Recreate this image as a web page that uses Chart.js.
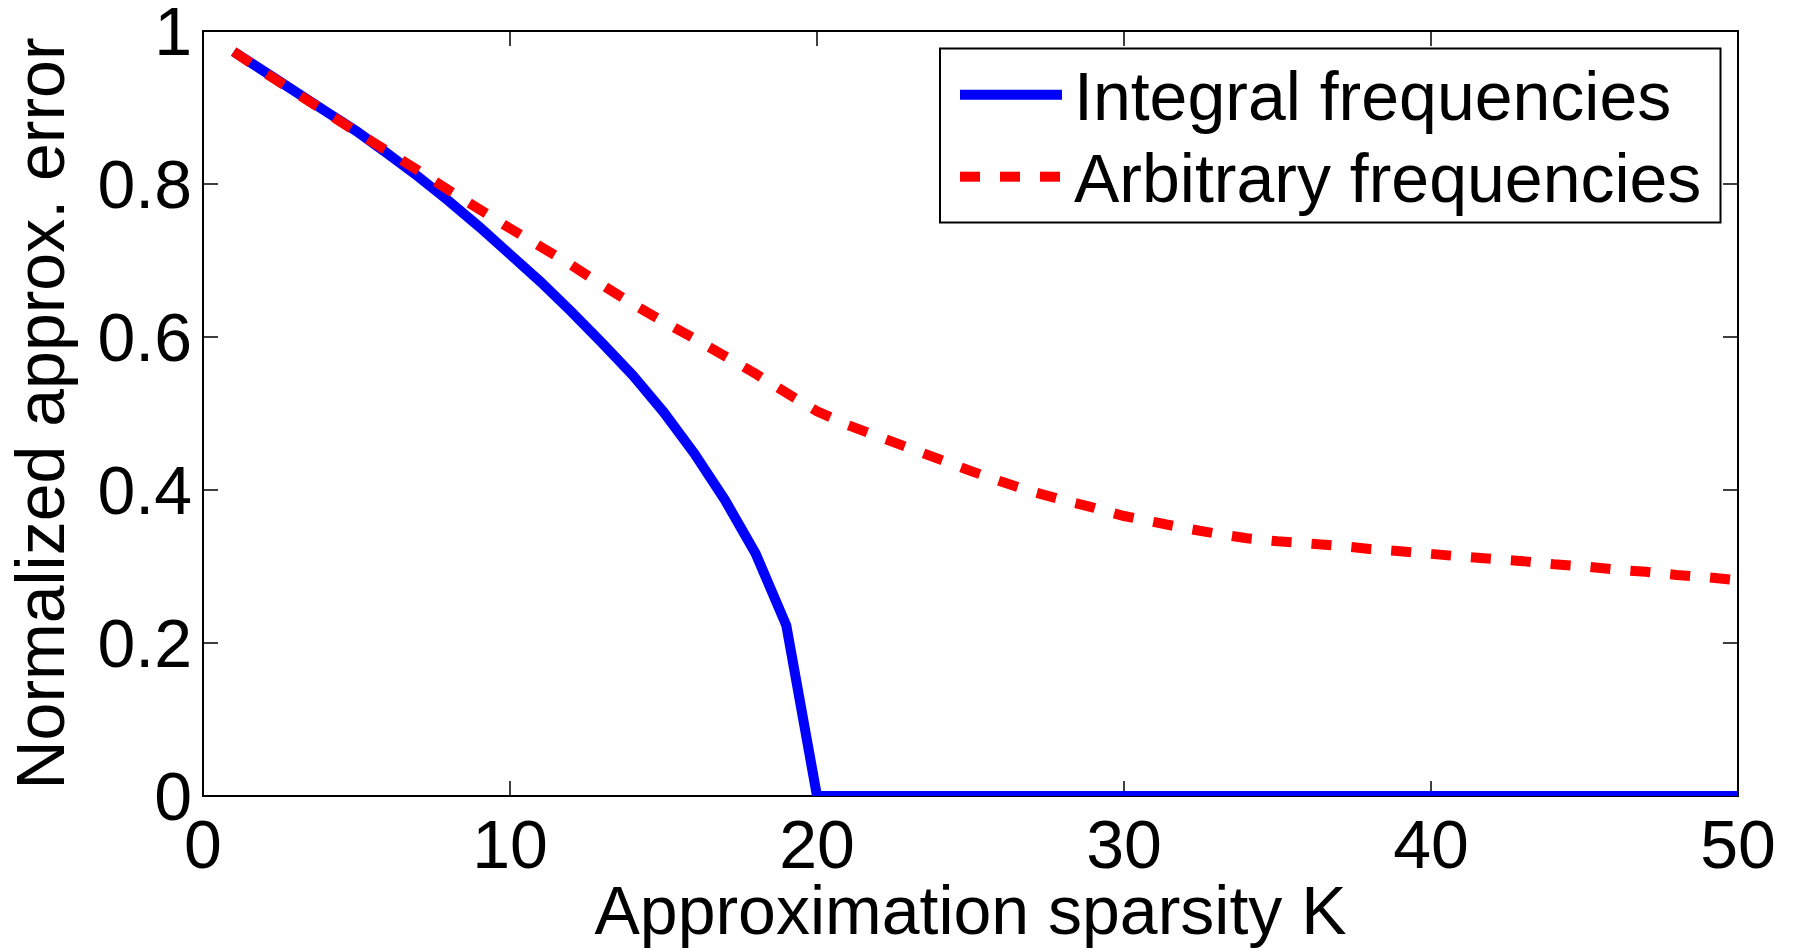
<!DOCTYPE html>
<html>
<head>
<meta charset="utf-8">
<script src="https://cdn.jsdelivr.net/npm/chart.js@4/dist/chart.umd.min.js"></script>
<style>
  body { margin: 0; background: #fff; }
  #wrap { width: 1793px; height: 951px; }
</style>
</head>
<body>
<div id="wrap"><canvas id="grafico" width="1793" height="951"></canvas></div>
<script>
// --- Datos ---
const sparsityK = [1, 2, 3, 4, 5, 6, 7, 8, 9, 10,
  11, 12, 13, 14, 15, 16, 17, 18, 19, 20,
  21, 22, 23, 24, 25, 26, 27, 28, 29, 30,
  31, 32, 33, 34, 35, 36, 37, 38, 39, 40,
  41, 42, 43, 44, 45, 46, 47, 48, 49, 50];

const integralErr = [0.973, 0.947, 0.921, 0.895, 0.869, 0.840, 0.810, 0.778, 0.744, 0.708,
  0.672, 0.633, 0.592, 0.550, 0.502, 0.448, 0.387, 0.317, 0.223, 0,
  0, 0, 0, 0, 0, 0, 0, 0, 0, 0,
  0, 0, 0, 0, 0, 0, 0, 0, 0, 0,
  0, 0, 0, 0, 0, 0, 0, 0, 0, 0];

const arbitraryErr = [0.973, 0.946, 0.920, 0.894, 0.868, 0.843, 0.818, 0.792, 0.767, 0.742,
  0.718, 0.694, 0.668, 0.643, 0.620, 0.598, 0.575, 0.552, 0.527, 0.503,
  0.485, 0.470, 0.455, 0.440, 0.425, 0.411, 0.398, 0.387, 0.377, 0.366,
  0.358, 0.350, 0.343, 0.337, 0.333, 0.330, 0.327, 0.323, 0.320, 0.3165,
  0.313, 0.310, 0.307, 0.303, 0.300, 0.296, 0.293, 0.289, 0.286, 0.282];

const xTicks = [0, 10, 20, 30, 40, 50];
const xTickLabels = ['0', '10', '20', '30', '40', '50'];
const yTicks = [0, 0.2, 0.4, 0.6, 0.8, 1];
const yTickLabels = ['0', '0.2', '0.4', '0.6', '0.8', '1'];

const FUENTE = '"Liberation Sans", Arial, Helvetica, sans-serif';

// Caja de ejes con marcas hacia dentro (estilo MATLAB)
const cajaEjes = {
  id: 'cajaEjes',
  beforeDatasetsDraw(chart) {
    const { ctx, chartArea: a, scales } = chart;
    const largo = 15;
    ctx.save();
    ctx.strokeStyle = '#000';
    ctx.lineWidth = 2;
    ctx.strokeRect(a.left, a.top, a.right - a.left, a.bottom - a.top);
    ctx.beginPath();
    xTicks.forEach(v => {
      const x = scales.x.getPixelForValue(v);
      ctx.moveTo(x, a.bottom); ctx.lineTo(x, a.bottom - largo);
      ctx.moveTo(x, a.top); ctx.lineTo(x, a.top + largo);
    });
    yTicks.forEach(v => {
      const y = scales.y.getPixelForValue(v);
      ctx.moveTo(a.left, y); ctx.lineTo(a.left + largo, y);
      ctx.moveTo(a.right, y); ctx.lineTo(a.right - largo, y);
    });
    ctx.lineWidth = 1.5;
    ctx.stroke();
    ctx.restore();
  }
};

// Leyenda con recuadro
const leyenda = {
  id: 'leyenda',
  afterDatasetsDraw(chart) {
    const { ctx } = chart;
    const box = { x: 940, y: 48.5, w: 780.5, h: 174 };
    const filas = [94.7, 176.7];
    ctx.save();
    ctx.fillStyle = '#fff';
    ctx.fillRect(box.x, box.y, box.w, box.h);
    ctx.strokeStyle = '#000';
    ctx.lineWidth = 2;
    ctx.strokeRect(box.x, box.y, box.w, box.h);
    chart.data.datasets.forEach((ds, i) => {
      const y = filas[i];
      ctx.beginPath();
      ctx.strokeStyle = ds.borderColor;
      ctx.lineWidth = ds.borderWidth;
      ctx.lineCap = 'butt';
      ctx.setLineDash(ds.borderDash || []);
      ctx.moveTo(960, y);
      ctx.lineTo(1062, y);
      ctx.stroke();
      ctx.setLineDash([]);
      ctx.fillStyle = '#000';
      ctx.font = '68px ' + FUENTE;
      ctx.textBaseline = 'alphabetic';
      ctx.textAlign = 'left';
      ctx.fillText(ds.label, 1074, y + 25);
    });
    ctx.restore();
  }
};

new Chart(document.getElementById('grafico'), {
  type: 'line',
  data: {
    datasets: [{
      label: 'Integral frequencies',
      data: sparsityK.map((k, i) => ({ x: k, y: integralErr[i] })),
      borderColor: '#0000ff',
      borderWidth: 10,
      pointRadius: 0,
      tension: 0,
      clip: 0,
      order: 2
    }, {
      label: 'Arbitrary frequencies',
      data: sparsityK.map((k, i) => ({ x: k, y: arbitraryErr[i] })),
      borderColor: '#ff0000',
      borderWidth: 10,
      borderDash: [20, 20],
      pointRadius: 0,
      tension: 0,
      clip: 0,
      order: 1
    }]
  },
  options: {
    responsive: false,
    animation: false,
    layout: { padding: { left: 0, right: 55, top: 31, bottom: 0 } },
    plugins: {
      legend: { display: false },
      tooltip: { enabled: false }
    },
    scales: {
      x: {
        type: 'linear',
        min: 0,
        max: 50,
        afterFit: s => { s.height = 155; s.paddingLeft = 0; s.paddingRight = 0; },
        afterBuildTicks: s => { s.ticks = xTicks.map(v => ({ value: v })); },
        grid: { display: false, drawTicks: false },
        border: { display: false },
        ticks: {
          color: '#000',
          font: { size: 68, family: FUENTE },
          padding: 12,
          maxRotation: 0,
          autoSkip: false,
          callback: (v, i) => xTickLabels[i]
        },
        title: {
          display: true,
          text: 'Approximation sparsity K',
          color: '#000',
          font: { size: 68, family: FUENTE },
          padding: { top: 0, bottom: -5 }
        }
      },
      y: {
        type: 'linear',
        min: 0,
        max: 1,
        afterFit: s => { s.width = 203; s.paddingTop = 0; s.paddingBottom = 0; },
        afterBuildTicks: s => { s.ticks = yTicks.map(v => ({ value: v })); },
        grid: { display: false, drawTicks: false },
        border: { display: false },
        ticks: {
          color: '#000',
          font: { size: 68, family: FUENTE },
          padding: 11,
          labelOffset: 5,
          autoSkip: false,
          callback: (v, i) => yTickLabels[i]
        },
        title: {
          display: true,
          text: 'Normalized approx. error',
          color: '#000',
          font: { size: 68, family: FUENTE },
          padding: { top: 4, bottom: 0 }
        }
      }
    }
  },
  plugins: [cajaEjes, leyenda]
});
</script>
</body>
</html>
